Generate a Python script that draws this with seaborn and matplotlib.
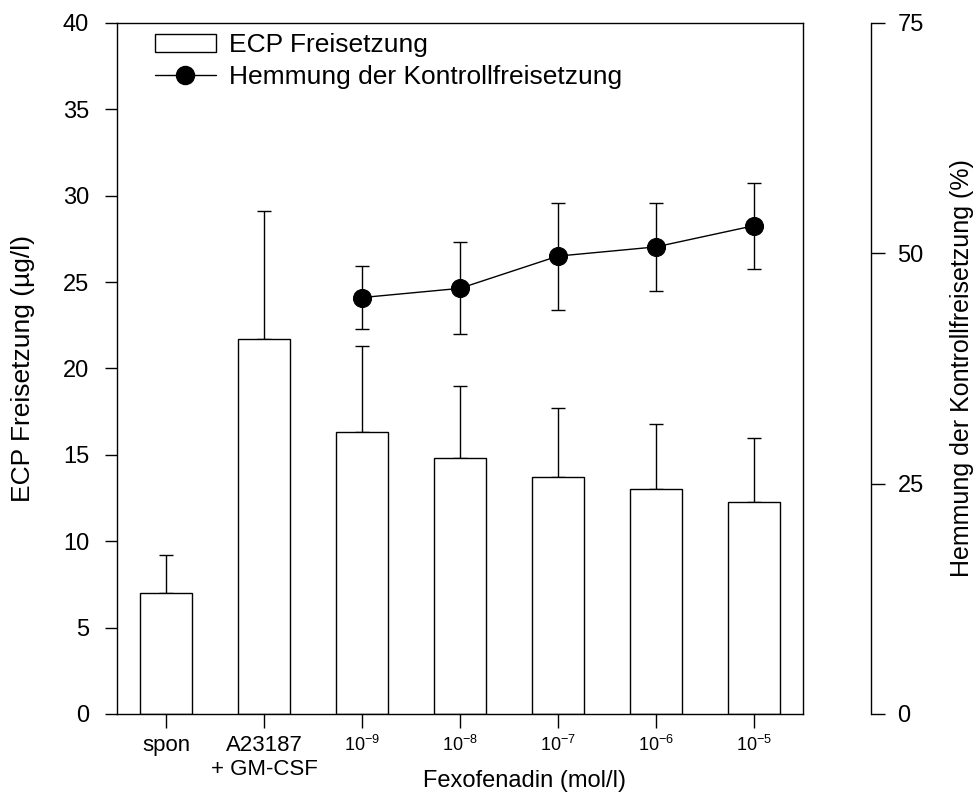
import matplotlib
matplotlib.use("Agg")
import matplotlib.pyplot as plt
import seaborn as sns
import pandas as pd
import numpy as np
from matplotlib.patches import Patch
from matplotlib.lines import Line2D

# ---- data ----
categories = ["spon", "A23187\n+ GM-CSF", r"$\mathregular{10^{-9}}$", r"$\mathregular{10^{-8}}$",
              r"$\mathregular{10^{-7}}$", r"$\mathregular{10^{-6}}$", r"$\mathregular{10^{-5}}$"]
ecp_values = [7.0, 21.7, 16.3, 14.8, 13.7, 13.0, 12.3]
ecp_errors = [2.2, 7.4, 5.0, 4.2, 4.0, 3.8, 3.7]

inhib_categories = categories[2:]
inhib_values = [45.2, 46.2, 49.7, 50.7, 53.0]
inhib_errors = [3.45, 5.0, 5.8, 4.8, 4.65]

left_ticks = [0, 5, 10, 15, 20, 25, 30, 35, 40]
right_ticks = [0, 25, 50, 75]

# ---- style ----
sns.set_theme(style="white")
plt.rcParams['font.family'] = ['Liberation Sans', 'DejaVu Sans']
plt.rcParams['mathtext.fontset'] = 'custom'
plt.rcParams['mathtext.rm'] = 'Liberation Sans'
plt.rcParams['mathtext.it'] = 'Liberation Sans:italic'
plt.rcParams['mathtext.bf'] = 'Liberation Sans:bold'
for k in ['text.color', 'axes.labelcolor', 'xtick.color', 'ytick.color', 'axes.edgecolor']:
    plt.rcParams[k] = 'black'

fig = plt.figure(figsize=(9.78, 8.06), dpi=100)
ax = fig.add_axes([117/978, 1 - 714/806, 686/978, 691/806])

df = pd.DataFrame({"cat": categories, "ecp": ecp_values})
sns.barplot(data=df, x="cat", y="ecp", order=categories, color="white",
            edgecolor="black", linewidth=1.0, width=0.54, errorbar=None, ax=ax, zorder=2)
xpos = np.arange(len(categories))
ax.errorbar(xpos, ecp_values, yerr=[np.zeros(len(ecp_errors)), ecp_errors], fmt="none",
            ecolor="black", elinewidth=1.0, capsize=5, capthick=1.0, zorder=1)

ax.set_xlim(-0.5, len(categories) - 0.5)
ax.set_ylim(0, 40)
ax.set_yticks(left_ticks)
ax.set_yticklabels([str(t) for t in left_ticks])
ax.set_xticks(xpos)
ax.set_xticklabels(categories)
ax.tick_params(axis="y", direction="out", length=9, width=1, color="black", pad=11,
               left=True, labelsize=17, labelcolor="black")
ax.tick_params(axis="x", direction="out", length=10, width=1, color="black", pad=5,
               bottom=True, labelcolor="black")
for i, lab in enumerate(ax.get_xticklabels()):
    lab.set_fontsize(16 if i < 2 else 13)
for s in ax.spines.values():
    s.set_color("black")
    s.set_linewidth(1.0)
    s.set_visible(True)
ax.set_ylabel("ECP Freisetzung (µg/l)", fontsize=19, labelpad=20, color="black")
ax.set_xlabel("Fexofenadin (mol/l)", fontsize=17, color="black")
ax.xaxis.set_label_coords((525 - 117) / 686, (714 - 770) / 691)

# ---- right axis ----
ax2 = ax.twinx()
inhib_x = [categories.index(c) for c in inhib_categories]
ax2.errorbar(inhib_x, inhib_values, yerr=inhib_errors, fmt="none", ecolor="black",
             elinewidth=1.0, capsize=5, capthick=1.0, zorder=1)
dfl = pd.DataFrame({"x": inhib_x, "v": inhib_values})
sns.lineplot(data=dfl, x="x", y="v", ax=ax2, color="black", linewidth=1.0, marker="o",
             markersize=13, markerfacecolor="black", markeredgecolor="black", zorder=3)
ax2.set_ylim(0, 75)
ax2.set_xlim(-0.5, len(categories) - 0.5)
ax2.set_yticks(right_ticks)
ax2.set_yticklabels([str(t) for t in right_ticks])
ax2.spines["right"].set_position(("outward", 49))
ax2.spines["right"].set_color("black")
ax2.spines["right"].set_linewidth(1.0)
for k in ["top", "left", "bottom"]:
    ax2.spines[k].set_visible(False)
ax2.tick_params(axis="y", direction="out", length=10, width=1, color="black", pad=9,
                right=True, labelsize=17, labelcolor="black")
ax2.set_ylabel("Hemmung der Kontrollfreisetzung (%)", fontsize=18, labelpad=19, color="black")
ax2.set_xlabel("")

# ---- legend ----
handles = [Patch(facecolor="white", edgecolor="black", linewidth=1.0),
           Line2D([0], [0], color="black", linewidth=1.0, marker="o", markersize=13,
                  markerfacecolor="black")]
leg = ax.legend(handles, ["ECP Freisetzung", "Hemmung der Kontrollfreisetzung"],
                loc="upper left", bbox_to_anchor=((155 - 117) / 686, 1 - 10 / 691),
                frameon=False, fontsize=19, handlelength=2.3, handleheight=0.65,
                handletextpad=0.5, labelspacing=0.3, borderaxespad=0, borderpad=0)
for t in leg.get_texts():
    t.set_color("black")

fig.savefig("out.png", dpi=100)
